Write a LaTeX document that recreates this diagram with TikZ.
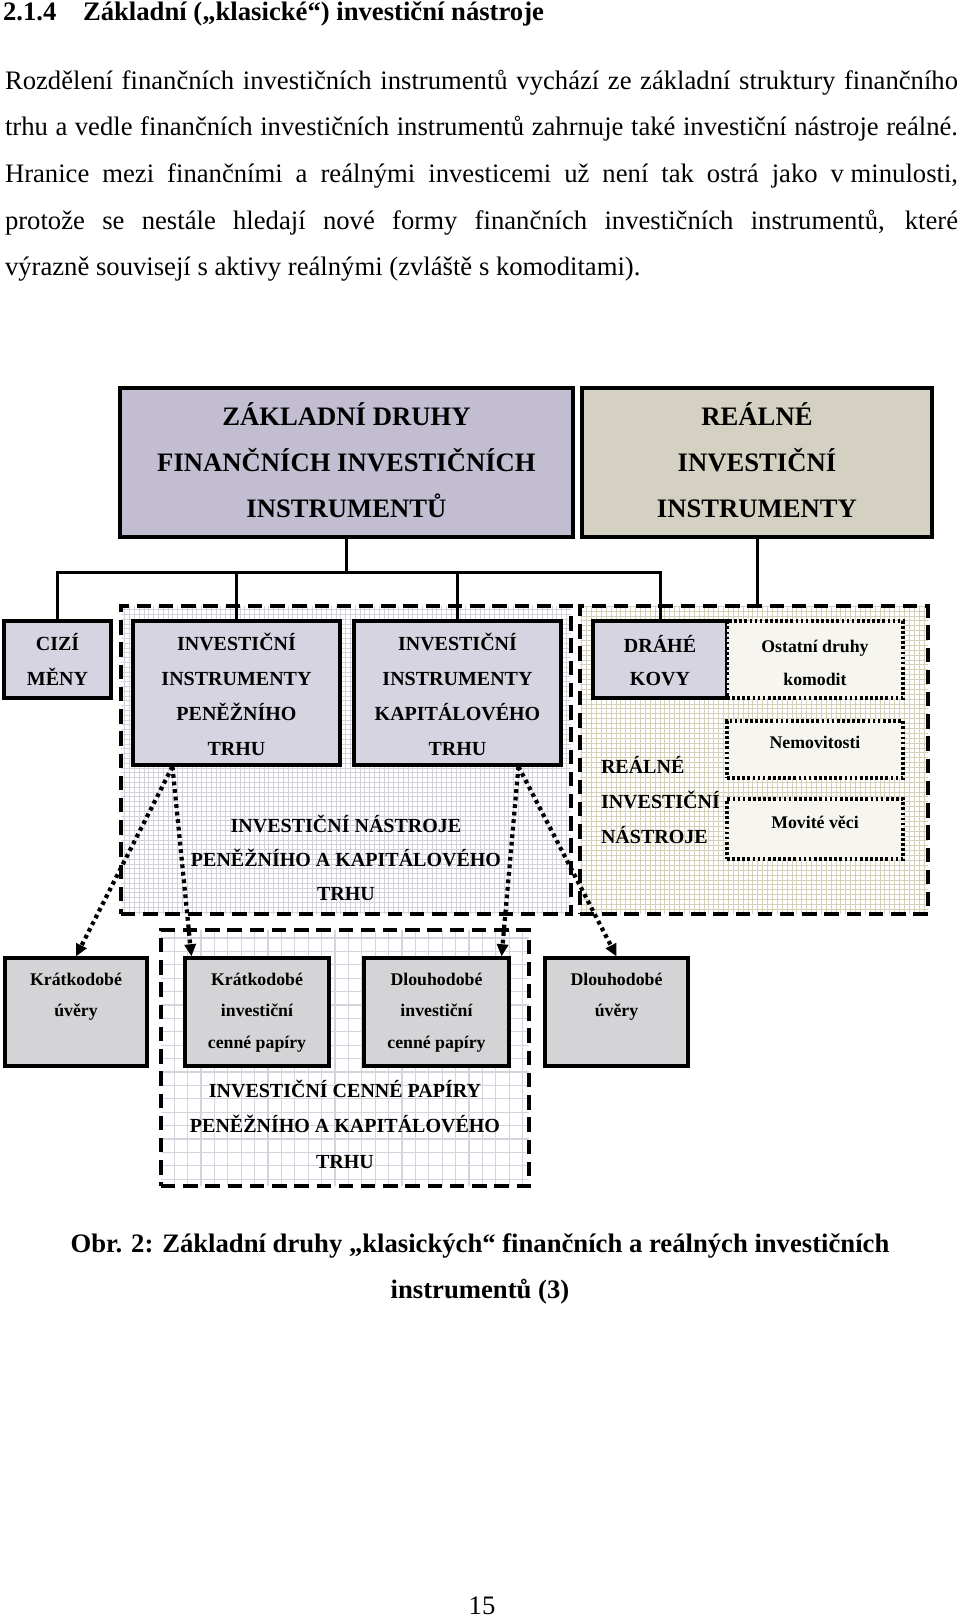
\documentclass[tikz,border=0pt]{standalone}
\usepackage{fontspec}
\setmainfont{Liberation Serif}
\usetikzlibrary{arrows.meta,fit,calc}
\definecolor{tlfill}{RGB}{194,189,208}
\definecolor{trfill}{RGB}{212,208,194}
\definecolor{mfill}{RGB}{214,212,224}
\definecolor{sfill}{RGB}{212,212,214}
\definecolor{lgrid}{RGB}{210,210,220}
\definecolor{bgrid}{RGB}{212,212,222}
\definecolor{rgrid}{RGB}{212,208,186}
\definecolor{dfill}{RGB}{246,245,240}
\newlength\lw
\setlength\lw{428.85pt}
\newcommand\ctr[1]{\parbox[t]{16cm}{\centering #1}}
\newcommand\lft[1]{\parbox[t]{4cm}{\raggedright #1}}
\begin{document}
\begin{tikzpicture}[x=0.45pt,y=-0.45pt,
  tt/.style={inner sep=0pt, outer sep=0pt, anchor=base},
  hf/.style={font=\fontsize{12}{20.7}\selectfont\bfseries},
  bf/.style={font=\fontsize{12}{14}\selectfont},
  bigf/.style={font=\fontsize{12}{20.7}\selectfont\bfseries},
  midf/.style={font=\fontsize{9}{15.75}\selectfont\bfseries},
  smf/.style={font=\fontsize{8}{14.2}\selectfont\bfseries},
  box/.style={draw=black, line width=1.5pt, inner sep=0pt},
  sbox/.style={draw=black, line width=1.4pt, inner sep=0pt},
  dbox/.style={draw=black, line width=1.5pt, dash pattern=on 1.2pt off 1.1pt, inner sep=0pt, fill=dfill},
  cont/.style={draw=black, line width=1.7pt, dash pattern=on 6.5pt off 3.5pt, inner sep=0pt},
  conn/.style={line width=1.35pt},
  darr/.style={line width=1.9pt, dash pattern=on 1.7pt off 1.7pt, -{Triangle[length=5.5pt,width=5pt]}}]
\useasboundingbox (0,0) rectangle (960,1617);
\fill[white] (0,0) rectangle (960,1617);

% heading and paragraph
\node[tt, anchor=base west, hf] (h1) at (3,20) {2.1.4};
\node[tt, anchor=base west, hf] (h2) at (83,20) {Základní („klasické“) investiční nástroje};
\node[tt, anchor=base west, bf] (p1) at (5,89) {\makebox[\lw][s]{Rozdělení finančních investičních instrumentů vychází ze základní struktury finančního}};
\node[tt, anchor=base west, bf] (p2) at (5,135.7) {\makebox[\lw][s]{trhu a vedle finančních investičních instrumentů zahrnuje také investiční nástroje reálné.}};
\node[tt, anchor=base west, bf] (p3) at (5,182.4) {\makebox[\lw][s]{Hranice mezi finančními a reálnými investicemi už není tak ostrá jako \mbox{v minulosti,}}};
\node[tt, anchor=base west, bf] (p4) at (5,229.1) {\makebox[\lw][s]{protože se nestále hledají nové formy finančních investičních instrumentů, které}};
\node[tt, anchor=base west, bf] (p5) at (5,275.8) {výrazně souvisejí s aktivy reálnými (zvláště s komoditami).};

% containers
\begin{scope}
\clip (121,606) rectangle (571,914);
\fill[white] (121,606) rectangle (571,914);
\draw[lgrid, line width=0.45pt, step=2.16pt] (121,914) grid (571,606);
\end{scope}
\node[cont, fit={(121,606) (571,914)}] (lc) {};
\begin{scope}
\clip (580,606) rectangle (928,914);
\fill[white] (580,606) rectangle (928,914);
\draw[rgrid, line width=0.45pt, step=2.2pt] (580,914) grid (928,606);
\end{scope}
\node[cont, fit={(580,606) (928,914)}] (rc) {};
\begin{scope}
\clip (161,930) rectangle (529,1186);
\fill[white] (161,930) rectangle (529,1186);
\draw[bgrid, line width=0.5pt, step=6.03pt] (161,1186) grid (529,930);
\end{scope}
\node[cont, fit={(161,930) (529,1186)}] (bc) {};

% top boxes
\node[box, fill=tlfill, fit={(120,388) (573,537)}] (tl) {};
\node[box, fill=trfill, fit={(582,388) (932,537)}] (tr) {};
\node[tt, bigf] (tlt) at (346.5,425) {\ctr{ZÁKLADNÍ DRUHY\\FINANČNÍCH INVESTIČNÍCH\\INSTRUMENTŮ}};
\node[tt, bigf] (trt) at (757,425) {\ctr{REÁLNÉ\\INVESTIČNÍ\\INSTRUMENTY}};

% middle boxes
\node[sbox, fill=mfill, fit={(4,621) (111,698)}] (cm) {};
\node[sbox, fill=mfill, fit={(133,621) (340,765)}] (mm) {};
\node[sbox, fill=mfill, fit={(354,621) (561,765)}] (km) {};
\node[sbox, fill=mfill, fit={(593,621) (727,698)}] (dk) {};
\node[dbox, fit={(727,621) (903,698)}] (ok) {};
\node[dbox, fit={(727,721) (903,778)}] (nm) {};
\node[dbox, fit={(727,799) (903,859)}] (mv) {};
\node[tt, midf] (cmt) at (57.5,650) {\ctr{CIZÍ\\MĚNY}};
\node[tt, midf] (mmt) at (236.5,650) {\ctr{INVESTIČNÍ\\INSTRUMENTY\\PENĚŽNÍHO\\TRHU}};
\node[tt, midf] (kmt) at (457.5,650) {\ctr{INVESTIČNÍ\\INSTRUMENTY\\KAPITÁLOVÉHO\\TRHU}};
\node[tt, font=\fontsize{9}{15.5}\selectfont\bfseries] (lct) at (346,832) {\ctr{INVESTIČNÍ NÁSTROJE\\PENĚŽNÍHO A KAPITÁLOVÉHO\\TRHU}};
\node[tt, font=\fontsize{9}{14.85}\selectfont\bfseries] (dkt) at (660,652) {\ctr{DRÁHÉ\\KOVY}};
\node[tt, font=\fontsize{8}{14.85}\selectfont\bfseries] (okt) at (815,652) {\ctr{Ostatní druhy\\komodit}};
\node[tt, smf] (nmt) at (815,748) {Nemovitosti};
\node[tt, smf] (mvt) at (815,828) {Movité věci};
\node[tt, anchor=base west, midf] (rit) at (601,773) {\lft{REÁLNÉ\\INVESTIČNÍ\\NÁSTROJE}};

% bottom boxes
\node[sbox, fill=sfill, fit={(5,958) (147,1066)}] (ku) {};
\node[sbox, fill=sfill, fit={(185,958) (329,1066)}] (kicp) {};
\node[sbox, fill=sfill, fit={(364,958) (509,1066)}] (dicp) {};
\node[sbox, fill=sfill, fit={(545,958) (688,1066)}] (du) {};
\node[tt, smf] (kut) at (76,985) {\ctr{Krátkodobé\\úvěry}};
\node[tt, smf] (kicpt) at (257,985) {\ctr{Krátkodobé\\investiční\\cenné papíry}};
\node[tt, smf] (dicpt) at (436.5,985) {\ctr{Dlouhodobé\\investiční\\cenné papíry}};
\node[tt, smf] (dut) at (616.5,985) {\ctr{Dlouhodobé\\úvěry}};
\node[tt, font=\fontsize{9}{16}\selectfont\bfseries] (bct) at (345,1097) {\ctr{INVESTIČNÍ CENNÉ PAPÍRY\\PENĚŽNÍHO A KAPITÁLOVÉHO\\TRHU}};

% solid connectors
\coordinate (bus) at (0,572);
\draw[conn] (cm.north) |- (bus -| dk.north) -- (dk.north);
\draw[conn] (tl.south) -- (tl.south |- bus);
\draw[conn] (mm.north) -- (mm.north |- bus);
\draw[conn] (km.north) -- (km.north |- bus);
\draw[conn] (tr.south) -- (tr.south |- rc.north);

% dotted arrows
\coordinate (mmo) at ($(mm.south west)+(41,0)$);
\coordinate (kmo) at ($(km.south west)+(166,0)$);
\draw[darr] (mmo) -- (ku.north);
\draw[darr] (mmo) -- ($(kicp.north west)+(8,0)$);
\draw[darr] (kmo) -- ($(dicp.north east)+(-9,0)$);
\draw[darr] (kmo) -- (du.north);

% caption and page number
\node[tt, hf] (cap) at (480,1252) {\ctr{Obr. 2: Základní druhy „klasických“ finančních a reálných investičních\\instrumentů (3)}};
\node[tt, bf] (pg) at (482,1614) {15};
\end{tikzpicture}
\end{document}
